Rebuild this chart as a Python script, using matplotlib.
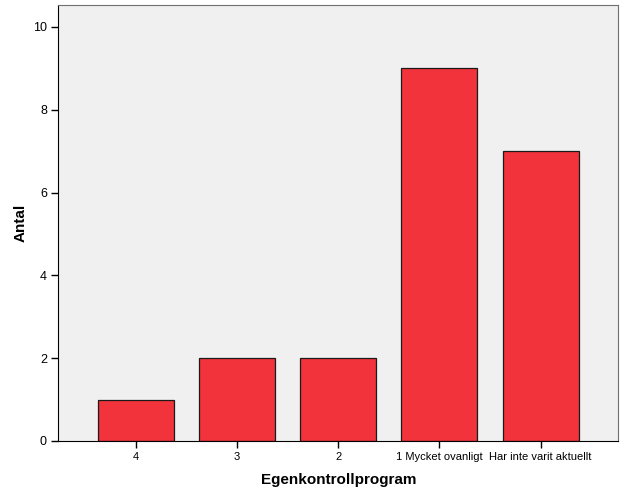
import matplotlib
matplotlib.use("Agg")
import matplotlib.pyplot as plt

plt.rcParams['font.family'] = ['Liberation Sans', 'DejaVu Sans']

# data
categories = ["4", "3", "2", "1 Mycket ovanligt", "Har inte varit aktuellt"]
counts = [1, 2, 2, 9, 7]
y_ticks = [0, 2, 4, 6, 8, 10]

fig = plt.figure(figsize=(6.26, 5.01), dpi=100)
ax = fig.add_axes([0.0927, 0.1198, 0.8953, 0.8702])
ax.set_facecolor("#F0F0F0")

x = range(len(categories))
ax.bar(x, counts, width=0.75, color="#F2333B", edgecolor="#1a1a1a", linewidth=0.9)

ax.set_xlim(-0.77, 4.77)
ax.set_ylim(0, 10.53)
ax.set_xticks(list(x))
ax.set_xticklabels(categories, fontsize=8)
ax.set_yticks(y_ticks)
ax.set_yticklabels([str(t) for t in y_ticks], fontsize=9)
ax.tick_params(direction="out", length=5, width=1, pad=3)

for side in ["left", "bottom"]:
    ax.spines[side].set_color("black")
ax.spines["top"].set_color("#707070")
ax.spines["right"].set_color("#707070")

ax.set_xlabel("Egenkontrollprogram", fontsize=11, fontweight="bold", labelpad=8)
ax.set_ylabel("Antal", fontsize=11, fontweight="bold", labelpad=4)

fig.savefig("out.png", dpi=100)
